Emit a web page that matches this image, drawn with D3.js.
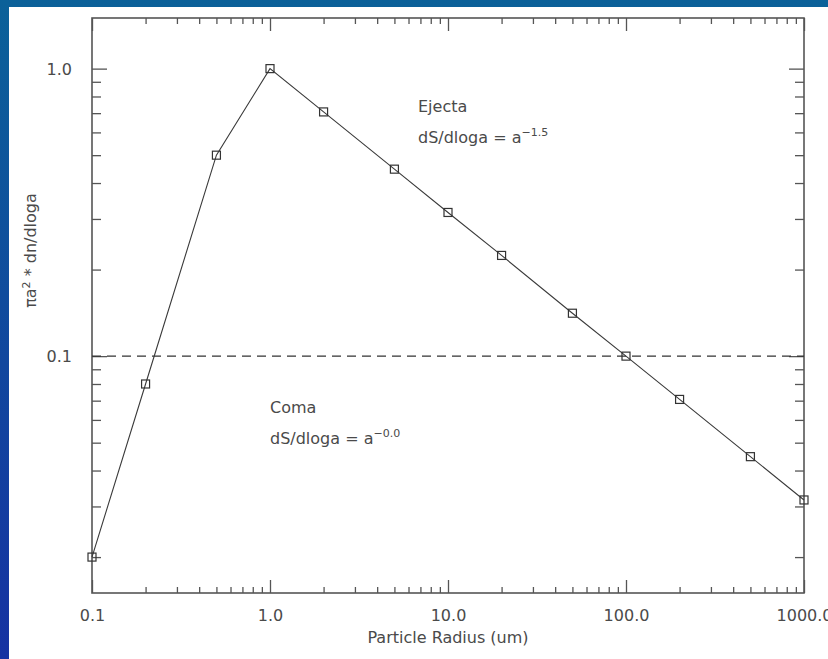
<!DOCTYPE html>
<html>
<head>
<meta charset="utf-8">
<script src="https://cdn.jsdelivr.net/npm/d3@7"></script>
<style>
  html, body { margin: 0; padding: 0; background: #fff; }
  svg { display: block; }
  text { font-family: "DejaVu Sans", "Liberation Sans", sans-serif; fill: #4a4a4a; }
</style>
</head>
<body>
<svg id="chart" width="828" height="659"></svg>
<script>
// Particle size distribution: pi a^2 * dn/dloga versus particle radius
const radius = [0.1, 0.2, 0.5, 1.0, 2.0, 5.0, 10.0, 20.0, 50.0, 100.0, 200.0, 500.0, 1000.0];
const areaDist = [0.02, 0.08, 0.5, 1.0, 0.707, 0.447, 0.316, 0.224, 0.141, 0.1, 0.0707, 0.0447, 0.0316];
const xTickValues = [0.1, 1, 10, 100, 1000];
const xTickLabels = ["0.1", "1.0", "10.0", "100.0", "1000.0"];
const yTickValues = [0.1, 1];
const yTickLabels = ["0.1", "1.0"];
const xDomain = [0.1, 1000];
const yDomain = [0.015, 1.5];
const cometLevel = 0.1;

const svg = d3.select("#chart");
const W = 828, H = 659;

// blue frame around the page
const defs = svg.append("defs");
const grad = defs.append("linearGradient").attr("id", "frame")
  .attr("x1", 0).attr("y1", 0).attr("x2", 0).attr("y2", 1);
grad.append("stop").attr("offset", "0%").attr("stop-color", "#0b6199");
grad.append("stop").attr("offset", "100%").attr("stop-color", "#1632a2");
svg.append("rect").attr("width", W).attr("height", H).attr("fill", "url(#frame)");
svg.append("rect").attr("x", 9).attr("y", 7).attr("width", W - 9).attr("height", H - 7).attr("fill", "#fff");

const m = { left: 92, right: 804, top: 18, bottom: 593 };
const x = d3.scaleLog().domain(xDomain).range([m.left, m.right]);
const y = d3.scaleLog().domain(yDomain).range([m.bottom, m.top]);

const axisColor = "#555";

// minor ticks at 2..9 of each decade
function minorTicks(scale) {
  const [a, b] = scale.domain();
  const out = [];
  for (let e = Math.floor(Math.log10(a)); e <= Math.ceil(Math.log10(b)); e++) {
    for (let k = 2; k <= 9; k++) {
      const v = k * Math.pow(10, e);
      if (v > a && v < b) out.push(+v.toPrecision(6));
    }
  }
  return out;
}
const xMinor = minorTicks(x);
const yMinor = minorTicks(y);

const g = svg.append("g");

function drawAxis(axisGen, transform, major, minor, majorLen, minorLen, labels) {
  const gMaj = g.append("g").attr("transform", transform)
    .call(axisGen.tickValues(major).tickSizeInner(majorLen).tickSizeOuter(0)
      .tickFormat((d, i) => labels ? labels[i] : ""));
  const gMin = g.append("g").attr("transform", transform)
    .call(axisGen.tickValues(minor).tickSizeInner(minorLen).tickSizeOuter(0).tickFormat(""));
  [gMaj, gMin].forEach(s => {
    s.select(".domain").remove();
    s.selectAll(".tick line").attr("stroke", axisColor).attr("stroke-width", 1.3);
  });
  return gMaj;
}

// bottom and top x axes (ticks pointing inward)
const bx = drawAxis(d3.axisBottom(x), `translate(0,${m.bottom})`, xTickValues, xMinor, -13, -6, xTickLabels);
bx.selectAll(".tick text").attr("dy", "0").attr("y", 28).attr("font-size", 16).attr("fill", "#4a4a4a");
drawAxis(d3.axisTop(x), `translate(0,${m.top})`, xTickValues, xMinor, -13, -6, null);

// left and right y axes
const ly = drawAxis(d3.axisLeft(y), `translate(${m.left},0)`, yTickValues, yMinor, -15, -9, yTickLabels);
ly.selectAll(".tick text").attr("x", -20).attr("dy", "0.35em").attr("font-size", 16).attr("fill", "#4a4a4a");
drawAxis(d3.axisRight(y), `translate(${m.right},0)`, yTickValues, yMinor, -15, -9, null);

// frame
g.append("rect").attr("x", m.left).attr("y", m.top)
  .attr("width", m.right - m.left).attr("height", m.bottom - m.top)
  .attr("fill", "none").attr("stroke", axisColor).attr("stroke-width", 1.6);

// comet reference level
g.append("line")
  .attr("x1", m.left).attr("x2", m.right)
  .attr("y1", y(cometLevel)).attr("y2", y(cometLevel))
  .attr("stroke", "#333").attr("stroke-width", 1.3).attr("stroke-dasharray", "9,6");

// distribution curve
const line = d3.line().x((d, i) => x(radius[i])).y(d => y(d));
g.append("path").datum(areaDist).attr("d", line)
  .attr("fill", "none").attr("stroke", "#3a3a3a").attr("stroke-width", 1.1);

// square markers
const s = 8;
g.selectAll("rect.pt").data(areaDist).join("rect").attr("class", "pt")
  .attr("x", (d, i) => x(radius[i]) - s / 2).attr("y", d => y(d) - s / 2)
  .attr("width", s).attr("height", s)
  .attr("fill", "none").attr("stroke", "#333").attr("stroke-width", 1.2);

// axis titles
svg.append("text").attr("x", (m.left + m.right) / 2).attr("y", 643)
  .attr("text-anchor", "middle").attr("font-size", 16).text("Particle Radius (um)");

const yt = svg.append("text").attr("text-anchor", "middle").attr("font-size", 16)
  .attr("transform", `translate(36,${(m.top + m.bottom) / 2 - 55}) rotate(-90)`);
yt.append("tspan").text("\u03c0a");
yt.append("tspan").attr("font-size", 11).attr("dy", -6).text("2");
yt.append("tspan").attr("dy", 6).text(" * dn/dloga");

// annotations
function annot(x0, y0, name, expo) {
  svg.append("text").attr("x", x0).attr("y", y0).attr("font-size", 16).text(name);
  const t = svg.append("text").attr("x", x0).attr("y", y0 + 31).attr("font-size", 16);
  t.append("tspan").text("dS/dloga = a");
  t.append("tspan").attr("font-size", 11).attr("dy", -7).text(expo);
}
annot(418, 112, "Ejecta", "\u22121.5");
annot(270, 413, "Coma", "\u22120.0");
</script>
</body>
</html>
